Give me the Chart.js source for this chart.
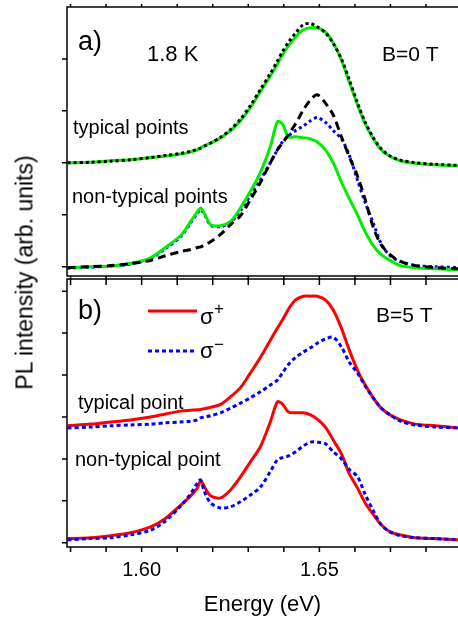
<!DOCTYPE html>
<html>
<head>
<meta charset="utf-8">
<script src="https://cdn.jsdelivr.net/npm/chart.js@4.4.0/dist/chart.umd.min.js"></script>
<style>
  html, body { margin: 0; padding: 0; background: #fff; }
  #wrap { position: relative; width: 458px; height: 621px; overflow: hidden; }
  #chartA { position: absolute; left: 0; top: 0; }
  #chartB { position: absolute; left: 0; top: 278px; }
  #ytitle {
    position: absolute; left: -125px; top: 259px; width: 300px;
    text-align: center; line-height: 26px; color: #000;
    font: 23px "Liberation Sans", Arial, sans-serif;
    transform: rotate(-90deg);
  }
</style>
</head>
<body>
<div id="wrap">
  <canvas id="chartA" width="458" height="280"></canvas>
  <canvas id="chartB" width="458" height="343"></canvas>
  <div id="ytitle">PL intensity (arb. units)</div>
</div>
<script>
//Data
let energy = [1.5792, 1.5857, 1.5913, 1.5969, 1.6025, 1.6067, 1.6110, 1.6138, 1.6157, 1.6166,
  1.6177, 1.6194, 1.6222, 1.6250, 1.6278, 1.6306, 1.6334, 1.6362, 1.6382, 1.6396,
  1.6413, 1.6433, 1.6455, 1.6475, 1.6494, 1.6517, 1.6539, 1.6562, 1.6584, 1.6607,
  1.6629, 1.6652, 1.6674, 1.6699, 1.6728, 1.6770, 1.6826, 1.6890];

// panel a) B=0 T
let aTypicalGreen = [2.00, 2.01, 2.04, 2.06, 2.10, 2.13, 2.17, 2.21, 2.25, 2.29,
  2.33, 2.38, 2.48, 2.62, 2.81, 3.06, 3.37, 3.67, 3.90, 4.08,
  4.25, 4.42, 4.56, 4.60, 4.60, 4.52, 4.31, 3.98, 3.56, 3.12,
  2.75, 2.46, 2.25, 2.12, 2.04, 1.99, 1.96, 1.94];
let aTypicalBlack = [2.00, 2.01, 2.03, 2.06, 2.10, 2.14, 2.18, 2.22, 2.26, 2.28,
  2.32, 2.38, 2.49, 2.64, 2.84, 3.10, 3.41, 3.72, 3.96, 4.14,
  4.32, 4.50, 4.66, 4.68, 4.62, 4.50, 4.30, 4.00, 3.60, 3.16,
  2.78, 2.48, 2.27, 2.13, 2.05, 2.00, 1.97, 1.95];
let aNonTypicalGreen = [-0.02, 0.00, 0.01, 0.06, 0.17, 0.37, 0.60, 0.87, 1.06, 1.13,
  1.02, 0.81, 0.79, 0.87, 1.13, 1.45, 1.81, 2.31, 2.79, 2.75,
  2.50, 2.50, 2.48, 2.46, 2.40, 2.25, 2.00, 1.63, 1.31, 1.00,
  0.67, 0.40, 0.23, 0.12, 0.02, -0.02, -0.04, -0.06];
let aNonTypicalBlack = [-0.02, 0.00, 0.02, 0.06, 0.12, 0.21, 0.29, 0.33, 0.37, 0.38,
  0.42, 0.48, 0.62, 0.81, 0.98, 1.29, 1.62, 2.00, 2.25, 2.38,
  2.54, 2.75, 3.02, 3.21, 3.31, 3.15, 2.92, 2.50, 2.12, 1.75,
  1.29, 0.75, 0.42, 0.23, 0.10, 0.02, -0.02, -0.04];
let aNonTypicalBlue = [-0.03, -0.01, 0.01, 0.05, 0.16, 0.35, 0.58, 0.85, 1.03, 1.10,
  1.00, 0.80, 0.77, 0.85, 1.08, 1.37, 1.67, 2.00, 2.25, 2.40,
  2.52, 2.62, 2.71, 2.81, 2.87, 2.78, 2.62, 2.46, 2.15, 1.67,
  1.23, 0.83, 0.44, 0.21, 0.10, 0.02, 0.00, -0.02];

// panel b) B=5 T
let bTypicalPlus = [2.79, 2.83, 2.88, 2.93, 3.00, 3.07, 3.14, 3.16, 3.17, 3.18,
  3.20, 3.23, 3.30, 3.48, 3.70, 4.05, 4.42, 4.83, 5.12, 5.31,
  5.57, 5.79, 5.88, 5.88, 5.88, 5.79, 5.55, 5.12, 4.60, 4.12,
  3.76, 3.45, 3.21, 3.05, 2.93, 2.83, 2.79, 2.74];
let bTypicalMinus = [2.74, 2.76, 2.79, 2.81, 2.83, 2.86, 2.88, 2.90, 2.93, 2.98,
  3.00, 3.03, 3.10, 3.21, 3.33, 3.46, 3.60, 3.76, 3.88, 4.05,
  4.25, 4.42, 4.55, 4.65, 4.76, 4.86, 4.90, 4.67, 4.31, 4.05,
  3.74, 3.45, 3.21, 3.05, 2.90, 2.81, 2.76, 2.74];
let bNonTypicalPlus = [0.10, 0.12, 0.17, 0.24, 0.38, 0.58, 0.90, 1.12, 1.31, 1.48,
  1.33, 1.12, 1.07, 1.26, 1.57, 1.93, 2.29, 2.88, 3.36, 3.31,
  3.12, 3.10, 3.10, 3.05, 2.95, 2.76, 2.45, 2.12, 1.65, 1.31,
  0.95, 0.67, 0.43, 0.26, 0.19, 0.12, 0.10, 0.07];
let bNonTypicalMinus = [0.07, 0.10, 0.12, 0.19, 0.30, 0.52, 0.88, 1.17, 1.43, 1.50,
  1.21, 0.95, 0.83, 0.86, 0.98, 1.14, 1.33, 1.70, 1.98, 2.03,
  2.07, 2.17, 2.31, 2.40, 2.40, 2.36, 2.17, 2.00, 1.75, 1.58,
  1.15, 0.76, 0.43, 0.26, 0.17, 0.12, 0.10, 0.07];

let energyTicks = [1.58, 1.59, 1.60, 1.61, 1.62, 1.63, 1.64, 1.65, 1.66, 1.67, 1.68];
let energyTickLabels = ["1.60", "1.65"];
let aIntensityTicks = [0, 1, 2, 3, 4];
let bIntensityTicks = [0, 1, 2, 3, 4, 5, 6];

const FONT = '"Liberation Sans", Arial, sans-serif';
const xy = (ys) => energy.map((e, i) => ({x: e, y: ys[i]}));

const line = (label, ys, color, dash) => ({
  label: label,
  data: xy(ys),
  borderColor: color,
  borderWidth: 3,
  borderDash: dash,
  pointRadius: 0,
  tension: 0.3,
  fill: false,
});

//Frame, tick marks and texts
const framePlugin = {
  id: "frame",
  afterDatasetsDraw: (chart, args, opts) => {
    const {ctx, chartArea: a} = chart;
    const xs = chart.scales.x, ys = chart.scales.y;
    ctx.save();
    ctx.strokeStyle = "#000";
    ctx.lineWidth = 1.5;
    ctx.beginPath();
    ctx.moveTo(a.right + 2, a.top);
    ctx.lineTo(a.left, a.top);
    ctx.lineTo(a.left, a.bottom);
    ctx.lineTo(a.right + 2, a.bottom);
    opts.yTicks.forEach((v) => {
      let py = ys.getPixelForValue(v);
      ctx.moveTo(a.left - 5, py);
      ctx.lineTo(a.left, py);
    });
    energyTicks.forEach((v) => {
      let px = xs.getPixelForValue(v);
      ctx.moveTo(px, a.top - opts.topOut);
      ctx.lineTo(px, a.top + opts.topIn);
      ctx.moveTo(px, a.bottom);
      ctx.lineTo(px, a.bottom + opts.bottomOut);
    });
    ctx.stroke();

    ctx.fillStyle = "#000";
    ctx.textBaseline = "alphabetic";
    ctx.textAlign = "left";
    opts.texts.forEach((t) => {
      ctx.font = `${t.size}px ${FONT}`;
      ctx.fillText(t.text, t.x, t.y);
    });

    (opts.legend || []).forEach((l) => {
      ctx.beginPath();
      ctx.strokeStyle = l.color;
      ctx.lineWidth = 3;
      ctx.setLineDash(l.dash || []);
      ctx.moveTo(l.x1, l.y);
      ctx.lineTo(l.x2, l.y);
      ctx.stroke();
    });
    ctx.restore();
  }
};

//Panel a
new Chart(document.getElementById("chartA"), {
  type: "line",
  data: {
    datasets: [
      line("typical dotted", aTypicalBlack, "#000000", [3, 3]),
      line("typical", aTypicalGreen, "#00ee00", []),
      line("non-typical dashed", aNonTypicalBlack, "#000000", [8, 5]),
      line("non-typical", aNonTypicalGreen, "#00ee00", []),
      line("non-typical dotted", aNonTypicalBlue, "#0000ff", [3, 3]),
    ]
  },
  plugins: [framePlugin],
  options: {
    responsive: false,
    animation: false,
    layout: {padding: {left: 67, top: 7, right: 0, bottom: 4}},
    scales: {
      x: {type: "linear", min: 1.579, max: 1.689, display: false},
      y: {min: -0.18, max: 5, display: false},
    },
    plugins: {
      legend: {display: false},
      tooltip: {enabled: false},
      frame: {
        yTicks: aIntensityTicks,
        topOut: 3, topIn: 0, bottomOut: 4,
        texts: [
          {text: "a)", x: 78, y: 50, size: 27},
          {text: "1.8 K", x: 147, y: 61, size: 22},
          {text: "B=0 T", x: 382, y: 61, size: 21},
          {text: "typical points", x: 73, y: 134, size: 20},
          {text: "non-typical points", x: 72, y: 203, size: 20},
        ],
      },
    },
  },
});

//Panel b
new Chart(document.getElementById("chartB"), {
  type: "line",
  data: {
    datasets: [
      line("σ− typical", bTypicalMinus, "#0000ff", [4, 3]),
      line("σ+ typical", bTypicalPlus, "#ff0000", []),
      line("σ− non-typical", bNonTypicalMinus, "#0000ff", [4, 3]),
      line("σ+ non-typical", bNonTypicalPlus, "#ff0000", []),
    ]
  },
  plugins: [framePlugin],
  options: {
    responsive: false,
    animation: false,
    layout: {padding: {left: 67, top: 1, right: 0, bottom: 0}},
    scales: {
      x: {
        type: "linear", min: 1.579, max: 1.689,
        grid: {display: false, drawTicks: false},
        border: {display: false},
        afterBuildTicks: (scale) => {
          scale.ticks = energyTicks.map((v) => ({value: v}));
        },
        afterFit: (scale) => { scale.height = 74; },
        ticks: {
          autoSkip: false, maxRotation: 0, padding: 11, color: "#000",
          font: {family: FONT, size: 20},
          callback: (value) => {
            let label = energyTickLabels.find((l) => Math.abs(parseFloat(l) - value) < 1e-6);
            return label || "";
          },
        },
        title: {
          display: true, text: "Energy (eV)", color: "#000",
          font: {family: FONT, size: 22},
          padding: {top: 0, bottom: 3},
        },
      },
      y: {min: -0.1, max: 6.29, display: false},
    },
    plugins: {
      legend: {display: false},
      tooltip: {enabled: false},
      frame: {
        yTicks: bIntensityTicks,
        topOut: 0, topIn: 6, bottomOut: 5,
        texts: [
          {text: "b)", x: 78, y: 41, size: 27},
          {text: "B=5 T", x: 376, y: 44, size: 21},
          {text: "σ", x: 200, y: 46, size: 22},
          {text: "+", x: 214, y: 36, size: 17},
          {text: "σ", x: 200, y: 80, size: 22},
          {text: "−", x: 214, y: 72, size: 17},
          {text: "typical point", x: 78, y: 131, size: 20},
          {text: "non-typical point", x: 75, y: 188, size: 20},
        ],
        legend: [
          {x1: 148, x2: 197, y: 33, color: "#ff0000", dash: []},
          {x1: 148, x2: 197, y: 73, color: "#0000ff", dash: [4, 3]},
        ],
      },
    },
  },
});
</script>
</body>
</html>
